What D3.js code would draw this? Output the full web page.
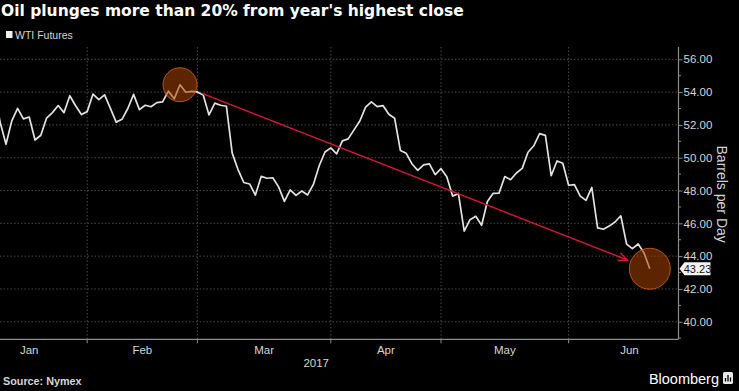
<!DOCTYPE html>
<html>
<head>
<meta charset="utf-8">
<script src="https://cdn.jsdelivr.net/npm/d3@7"></script>
<style>
  html, body { margin: 0; padding: 0; background: #000; }
  svg { display: block; }
</style>
</head>
<body>
<div id="chart"></div>
<script>
// WTI front-month closes, 2017, one entry per trading day
const closesJan = [52.33, 53.26, 53.76, 53.99, 52.15, 50.82, 52.25, 53.01, 52.37, 52.48,
  51.08, 51.37, 52.42, 52.75, 53.18, 52.75, 53.78, 53.17, 52.63, 52.81];
const closesFeb = [53.88, 53.54, 53.83, 53.01, 52.17, 52.34, 53.00, 53.86, 52.93, 53.20,
  53.11, 53.36, 53.40, 54.06, 53.59, 54.45, 53.99, 54.05, 54.01];
const closesMar = [53.83, 52.61, 53.33, 53.20, 53.14, 50.28, 49.28, 48.49, 48.40, 47.72,
  48.86, 48.75, 48.78, 48.22, 47.34, 48.04, 47.70, 47.97, 47.73, 48.37, 49.51, 50.35, 50.60];
const closesApr = [50.24, 51.03, 51.15, 51.70, 52.24, 53.08, 53.40, 53.11, 53.18, 52.65,
  52.41, 50.44, 50.27, 49.62, 49.23, 49.56, 49.62, 48.97, 49.33];
const closesMay = [48.84, 47.66, 47.82, 45.52, 46.22, 46.43, 45.88, 47.33, 47.83, 47.84,
  48.85, 48.66, 49.07, 49.35, 50.33, 50.73, 51.47, 51.36, 48.90, 49.80, 49.66, 48.32];
const closesJun = [48.36, 47.66, 47.40, 48.19, 45.72, 45.64, 45.83, 46.08, 46.46, 44.73,
  44.46, 44.74, 44.20, 43.23];

const months = ['Jan', 'Feb', 'Mar', 'Apr', 'May', 'Jun'];
const tradingDays = [20, 19, 23, 19, 22, 21];
const yTicks = [40, 42, 44, 46, 48, 50, 52, 54, 56];
const yMinorTicks = [39, 41, 43, 45, 47, 49, 51, 53, 55];

const W = 739, H = 391;
const colors = {
  bg: '#000',
  line: '#e2e2e2',
  grid: '#4a4a4a',
  axis: '#8c8c8c',
  text: '#d6d6d6',
  arrow: '#d8163c',
  circleFill: '#a84400',
  circleStroke: '#d86410'
};
const font = '"Liberation Sans", Arial, sans-serif';

const series = [closesJan, closesFeb, closesMar, closesApr, closesMay, closesJun].flat();
const data = series.map((v, i) => ({ i, v }));

// month boundaries sit on the last trading day of the previous month
const bounds = [-1];
tradingDays.forEach(n => bounds.push(bounds[bounds.length - 1] + n));

const plot = { left: -23, right: 678.5, top: 47, bottom: 339.3 };

const x = d3.scaleLinear()
  .domain([0, series.length - 1])
  .range([plot.left, 649.8]);

const y = d3.scaleLinear()
  .domain([38.93, 56.75])
  .range([plot.bottom, plot.top]);

const svg = d3.select('#chart')
  .append('svg')
  .attr('width', W)
  .attr('height', H)
  .style('background', colors.bg);

// gridlines
const grid = svg.append('g').attr('class', 'grid');
grid.selectAll('line.h')
  .data(yTicks)
  .enter()
  .append('line')
  .attr('x1', 0)
  .attr('x2', plot.right)
  .attr('y1', d => y(d))
  .attr('y2', d => y(d))
  .attr('stroke', colors.grid)
  .attr('stroke-width', 1)
  .attr('stroke-dasharray', '1.5,2');

grid.selectAll('line.v')
  .data(bounds.slice(1, 6))
  .enter()
  .append('line')
  .attr('x1', d => x(d))
  .attr('x2', d => x(d))
  .attr('y1', plot.top)
  .attr('y2', plot.bottom)
  .attr('stroke', colors.grid)
  .attr('stroke-width', 1)
  .attr('stroke-dasharray', '1.5,2');

// x axis
svg.append('line')
  .attr('x1', 0)
  .attr('x2', plot.right)
  .attr('y1', plot.bottom)
  .attr('y2', plot.bottom)
  .attr('stroke', colors.axis)
  .attr('stroke-width', 1.2);

svg.append('g')
  .selectAll('line')
  .data(bounds.slice(1, 6))
  .enter()
  .append('line')
  .attr('x1', d => x(d))
  .attr('x2', d => x(d))
  .attr('y1', plot.bottom)
  .attr('y2', plot.bottom + 4)
  .attr('stroke', colors.axis);

svg.append('g')
  .selectAll('text')
  .data(months)
  .enter()
  .append('text')
  .attr('x', (d, k) => x((bounds[k] + bounds[k + 1]) / 2))
  .attr('y', 354)
  .attr('text-anchor', 'middle')
  .attr('fill', colors.text)
  .attr('font-family', font)
  .attr('font-size', '11.5px')
  .text(d => d);

svg.append('text')
  .attr('x', x((bounds[2] + bounds[4]) / 2) - 3)
  .attr('y', 367)
  .attr('text-anchor', 'middle')
  .attr('fill', colors.text)
  .attr('font-family', font)
  .attr('font-size', '11.5px')
  .text('2017');

// y axis on the right
const yAxis = d3.axisRight(y)
  .tickValues(yTicks)
  .tickSize(4)
  .tickPadding(1)
  .tickFormat(d3.format('.2f'));

const yAxisG = svg.append('g')
  .attr('transform', `translate(${plot.right},0)`)
  .call(yAxis);
yAxisG.select('.domain')
  .attr('d', `M0,${plot.top}V${plot.bottom}`)
  .attr('stroke', colors.axis)
  .attr('stroke-width', 1.2);
yAxisG.selectAll('.tick line').attr('stroke', colors.axis);
yAxisG.selectAll('.tick text')
  .attr('fill', colors.text)
  .attr('font-family', font)
  .attr('font-size', '11.5px');

yAxisG.append('g')
  .selectAll('line')
  .data(yMinorTicks)
  .enter()
  .append('line')
  .attr('x1', 0)
  .attr('x2', 2.5)
  .attr('y1', d => y(d))
  .attr('y2', d => y(d))
  .attr('stroke', colors.axis);

svg.append('text')
  .attr('transform', `translate(721,${(plot.top + plot.bottom) / 2 + 1}) rotate(90)`)
  .attr('text-anchor', 'middle')
  .attr('dominant-baseline', 'middle')
  .attr('fill', colors.text)
  .attr('font-family', font)
  .attr('font-size', '14px')
  .text('Barrels per Day');

// price line
svg.append('path')
  .datum(data)
  .attr('fill', 'none')
  .attr('stroke', colors.line)
  .attr('stroke-width', 1.7)
  .attr('stroke-linejoin', 'round')
  .attr('d', d3.line().x(d => x(d.i)).y(d => y(d.v)));

// annotation: highest close -> latest close
const peak = data.reduce((a, b) => (b.v > a.v ? b : a));
const last = data[data.length - 1];
const p0 = [x(peak.i), y(peak.v)];
const p1 = [x(last.i), y(last.v)];
const ang = Math.atan2(p1[1] - p0[1], p1[0] - p0[0]);
const a0 = [p0[0] + 23 * Math.cos(ang), p0[1] + 23 * Math.sin(ang)];
const a1 = [p1[0] - 24 * Math.cos(ang), p1[1] - 24 * Math.sin(ang)];

svg.append('line')
  .attr('x1', a0[0]).attr('y1', a0[1])
  .attr('x2', a1[0]).attr('y2', a1[1])
  .attr('stroke', colors.arrow)
  .attr('stroke-width', 1.4);

const headLen = 10, headAng = 0.42;
svg.append('path')
  .attr('fill', 'none')
  .attr('stroke', colors.arrow)
  .attr('stroke-width', 1.4)
  .attr('d', `M${a1[0] - headLen * Math.cos(ang - headAng)},${a1[1] - headLen * Math.sin(ang - headAng)}` +
    `L${a1[0]},${a1[1]}` +
    `L${a1[0] - headLen * Math.cos(ang + headAng)},${a1[1] - headLen * Math.sin(ang + headAng)}`);

svg.append('g')
  .selectAll('circle')
  .data([{ p: p0, r: 17 }, { p: p1, r: 20.5 }])
  .enter()
  .append('circle')
  .attr('cx', d => d.p[0])
  .attr('cy', d => d.p[1])
  .attr('r', d => d.r)
  .attr('fill', colors.circleFill)
  .attr('fill-opacity', 0.55)
  .attr('stroke', colors.circleStroke)
  .attr('stroke-opacity', 0.8)
  .attr('stroke-width', 1);

// last value tag
const ty = y(last.v);
svg.append('path')
  .attr('d', `M${plot.right + 1},${ty}L${plot.right + 6},${ty - 6.5}H${plot.right + 32}V${ty + 6.5}H${plot.right + 6}Z`)
  .attr('fill', '#f4f4f4');
svg.append('text')
  .attr('x', plot.right + 19)
  .attr('y', ty)
  .attr('dy', '0.36em')
  .attr('text-anchor', 'middle')
  .attr('fill', '#111')
  .attr('font-family', font)
  .attr('font-size', '11px')
  .text(d3.format('.2f')(last.v));

// title, legend, footer
svg.append('text')
  .attr('x', 1)
  .attr('y', 16)
  .attr('fill', '#fff')
  .attr('font-family', '"DejaVu Sans", sans-serif')
  .attr('font-weight', 'bold')
  .attr('font-size', '15.5px')
  .text("Oil plunges more than 20% from year's highest close");

svg.append('rect')
  .attr('x', 6).attr('y', 31)
  .attr('width', 6.5).attr('height', 7)
  .attr('fill', '#f0f0f0');
svg.append('text')
  .attr('x', 15)
  .attr('y', 38.5)
  .attr('fill', colors.text)
  .attr('font-family', font)
  .attr('font-size', '10.5px')
  .text('WTI Futures');

svg.append('text')
  .attr('x', 3)
  .attr('y', 385)
  .attr('fill', colors.text)
  .attr('font-family', font)
  .attr('font-weight', 'bold')
  .attr('font-size', '10.8px')
  .text('Source: Nymex');

svg.append('text')
  .attr('x', 719)
  .attr('y', 384)
  .attr('text-anchor', 'end')
  .attr('fill', '#fff')
  .attr('font-family', font)
  .attr('font-size', '14.5px')
  .text('Bloomberg');

const logo = svg.append('g').attr('transform', 'translate(723,372)');
logo.append('rect')
  .attr('width', 10).attr('height', 12).attr('rx', 1.5)
  .attr('fill', '#e8e8e8');
logo.append('path')
  .attr('d', 'M2.5,9.5V6M5,9.5V3M7.5,9.5V5.5')
  .attr('stroke', '#000')
  .attr('stroke-width', 1.3);
</script>
</body>
</html>
